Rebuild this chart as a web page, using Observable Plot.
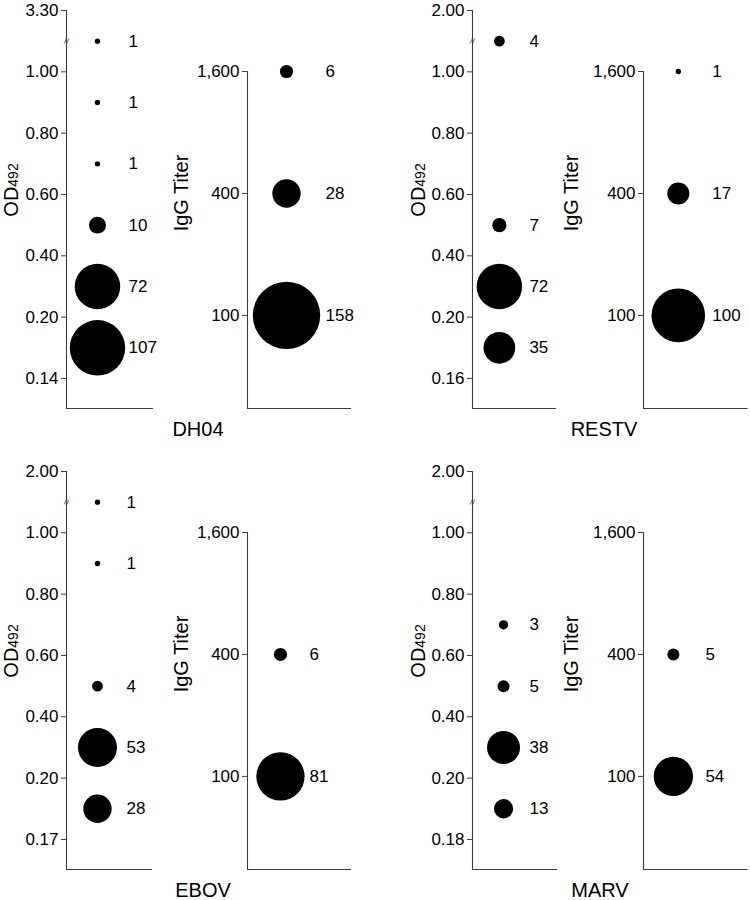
<!DOCTYPE html>
<html><head><meta charset="utf-8">
<script src="https://cdn.jsdelivr.net/npm/d3@7"></script>
<script src="https://cdn.jsdelivr.net/npm/@observablehq/plot@0.6"></script>
<style>
html,body{margin:0;padding:0;background:#fff;}
#chart{position:relative;width:750px;height:900px;font-family:"Liberation Sans",Arial,Helvetica,sans-serif;}
#chart .slot{position:absolute;}
#chart .overlay{position:absolute;left:0;top:0;pointer-events:none;}
</style></head>
<body><div id="chart"></div>
<script>
// ---------- data ----------
const panelNames = ["DH04", "RESTV", "EBOV", "MARV"];

// OD492 bins (index between consecutive tick labels)
const odBins = [0.5, 1.5, 2.5, 3.5, 4.5, 5.5];
const odTicksDH04  = ["0.14", "0.20", "0.40", "0.60", "0.80", "1.00", "3.30"];
const odTicksRESTV = ["0.16", "0.20", "0.40", "0.60", "0.80", "1.00", "2.00"];
const odTicksEBOV  = ["0.17", "0.20", "0.40", "0.60", "0.80", "1.00", "2.00"];
const odTicksMARV  = ["0.18", "0.20", "0.40", "0.60", "0.80", "1.00", "2.00"];
const odCountsDH04  = [107, 72, 10, 1, 1, 1];
const odCountsRESTV = [35, 72, 7, 0, 0, 4];
const odCountsEBOV  = [28, 53, 4, 0, 1, 1];
const odCountsMARV  = [13, 38, 5, 3, 0, 0];
const odBreakAt = 5.5;

// IgG titer
const titerLevels = [100, 400, 1600];
const titerCountsDH04  = [158, 28, 6];
const titerCountsRESTV = [100, 17, 1];
const titerCountsEBOV  = [81, 6, 0];
const titerCountsMARV  = [54, 5, 0];

// ---------- layout ----------
const FONT = '"Liberation Sans", Arial, Helvetica, sans-serif';
const AXIS = "#3c3c3c";
const rScale = {type: "sqrt", domain: [0, 158], range: [0, 33.7]};
const ROW_DY = 461;
const geoms = {
  DH04:  {row: 0, odAxis: 66,  odEnd: 153, odDot: 0.356, odLab: 31, igAxis: 247, igEnd: 351, igDot: 0.375, igLab: 39,
          odTitleX: 17.5, igTitleX: 187.5, nameX: 198},
  RESTV: {row: 0, odAxis: 472, odEnd: 556, odDot: 0.32,  odLab: 30, igAxis: 642.5, igEnd: 747, igDot: 0.333, igLab: 34,
          odTitleX: 424.5, igTitleX: 577.5, nameX: 604},
  EBOV:  {row: 1, odAxis: 66,  odEnd: 152, odDot: 0.36,  odLab: 29, igAxis: 247, igEnd: 351, igDot: 0.317, igLab: 29,
          odTitleX: 17.5, igTitleX: 187.5, nameX: 203},
  MARV:  {row: 1, odAxis: 472, odEnd: 557, odDot: 0.365, odLab: 26, igAxis: 642.5, igEnd: 747, igDot: 0.286, igLab: 32,
          odTitleX: 424.5, igTitleX: 577.5, nameX: 600}
};
const odTicks = {DH04: odTicksDH04, RESTV: odTicksRESTV, EBOV: odTicksEBOV, MARV: odTicksMARV};
const odCounts = {DH04: odCountsDH04, RESTV: odCountsRESTV, EBOV: odCountsEBOV, MARV: odCountsMARV};
const titerCounts = {DH04: titerCountsDH04, RESTV: titerCountsRESTV, EBOV: titerCountsEBOV, MARV: titerCountsMARV};

const chart = document.getElementById("chart");

function place(svg, left, top) {
  const wrap = document.createElement("div");
  wrap.className = "slot";
  wrap.style.left = left + "px";
  wrap.style.top = top + "px";
  wrap.appendChild(svg);
  chart.appendChild(wrap);
}

const OD_ML = 66, OD_MR = 10, H = 420, MB = 12;
function odPlot(name) {
  const g = geoms[name];
  const ticks = odTicks[name];
  const data = odBins.map((b, i) => ({bin: b, n: odCounts[name][i]})).filter(d => d.n > 0);
  const yMin = -0.49;
  const W = OD_ML + (g.odEnd - g.odAxis) + OD_MR;
  const svg = Plot.plot({
    width: W, height: H,
    marginLeft: OD_ML, marginRight: OD_MR, marginTop: 10, marginBottom: MB,
    style: {fontFamily: FONT, fontSize: "17px", color: "#000", background: "transparent", overflow: "visible"},
    x: {domain: [0, 1], axis: null},
    y: {domain: [yMin, ticks.length - 1]},
    r: rScale,
    marks: [
      Plot.ruleX([0], {stroke: AXIS, strokeWidth: 1.1}),
      Plot.ruleY([yMin], {stroke: AXIS, strokeWidth: 1.1}),
      Plot.axisY({ticks: d3.range(ticks.length), tickFormat: i => ticks[i], tickSize: 5, tickPadding: 3,
                  fontSize: 17, stroke: AXIS, fill: "#000", label: null}),
      Plot.text([odBreakAt], {x: 0, y: d => d, text: () => "//", fontSize: 8, fill: AXIS, rotate: 10}),
      Plot.dot(data, {x: () => g.odDot, y: "bin", r: "n", fill: "black"}),
      Plot.text(data, {x: () => g.odDot, y: "bin", text: "n", dx: g.odLab, textAnchor: "start", fontSize: 17, fill: "black"})
    ]
  });
  place(svg, g.odAxis - OD_ML, g.row * ROW_DY);
}

const IG_ML = 60, IG_MR = 3;
function igPlot(name) {
  const g = geoms[name];
  const data = titerLevels.map((t, i) => ({titer: t, n: titerCounts[name][i]})).filter(d => d.n > 0);
  const yMin = 34.7;
  const W = IG_ML + (g.igEnd - g.igAxis) + IG_MR;
  const svg = Plot.plot({
    width: W, height: H,
    marginLeft: IG_ML, marginRight: IG_MR, marginTop: 71, marginBottom: MB,
    style: {fontFamily: FONT, fontSize: "17px", color: "#000", background: "transparent", overflow: "visible"},
    x: {domain: [0, 1], axis: null},
    y: {type: "log", domain: [yMin, titerLevels[titerLevels.length - 1]]},
    r: rScale,
    marks: [
      Plot.ruleX([0], {stroke: AXIS, strokeWidth: 1.1}),
      Plot.ruleY([yMin], {stroke: AXIS, strokeWidth: 1.1}),
      Plot.axisY({ticks: titerLevels, tickFormat: d3.format(","), tickSize: 5, tickPadding: 3,
                  fontSize: 17, stroke: AXIS, fill: "#000", label: null}),
      Plot.dot(data, {x: () => g.igDot, y: "titer", r: "n", fill: "black"}),
      Plot.text(data, {x: () => g.igDot, y: "titer", text: "n", dx: g.igLab, textAnchor: "start", fontSize: 17, fill: "black"})
    ]
  });
  place(svg, g.igAxis - IG_ML, g.row * ROW_DY);
}

panelNames.forEach(n => { odPlot(n); igPlot(n); });

// ---------- titles overlay ----------
const ov = d3.select(chart).append("svg").attr("class", "overlay")
  .attr("width", 750).attr("height", 900)
  .style("font-family", FONT).style("fill", "#000");
panelNames.forEach(n => {
  const g = geoms[n];
  const dy = g.row * ROW_DY;
  const od = ov.append("text")
    .attr("transform", `translate(${g.odTitleX},${190 + dy}) rotate(-90)`)
    .attr("text-anchor", "middle").attr("font-size", 20);
  od.append("tspan").text("OD");
  od.append("tspan").attr("font-size", 14).text("492");
  ov.append("text")
    .attr("transform", `translate(${g.igTitleX},${193 + dy}) rotate(-90)`)
    .attr("text-anchor", "middle").attr("font-size", 20).text("IgG Titer");
  ov.append("text").attr("x", g.nameX).attr("y", 436 + dy)
    .attr("text-anchor", "middle").attr("font-size", 20).text(n);
});
</script>
</body></html>
